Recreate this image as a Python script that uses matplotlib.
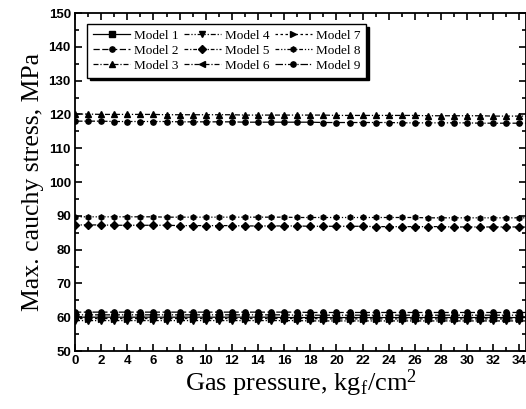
import numpy as np
import matplotlib
matplotlib.use('Agg')
import matplotlib.pyplot as plt
from matplotlib.ticker import MultipleLocator

plt.rcParams['mathtext.fontset'] = 'custom'
plt.rcParams['mathtext.rm'] = 'Liberation Serif'
plt.rcParams['mathtext.it'] = 'Liberation Serif:italic'

pressure = list(range(36))

model1 = [60.0, 60.0, 60.0, 60.0, 60.0, 60.0, 60.0, 60.0, 60.0, 60.0, 60.0, 60.0,
          60.0, 60.0, 60.0, 60.0, 59.9, 59.9, 59.9, 59.9, 59.9, 59.9, 59.9, 59.9,
          59.9, 59.9, 59.9, 59.9, 59.9, 59.9, 59.9, 59.9, 59.9, 59.9, 59.9, 59.9]
model2 = [61.5, 61.5, 61.5, 61.5, 61.5, 61.5, 61.5, 61.5, 61.5, 61.5, 61.5, 61.5,
          61.5, 61.5, 61.5, 61.5, 61.5, 61.5, 61.4, 61.4, 61.4, 61.4, 61.4, 61.4,
          61.4, 61.4, 61.4, 61.4, 61.4, 61.4, 61.4, 61.4, 61.4, 61.4, 61.4, 61.4]
model3 = [120.1, 120.1, 120.0, 120.0, 120.0, 120.0, 120.0, 119.9, 119.9, 119.9,
          119.9, 119.9, 119.9, 119.8, 119.8, 119.8, 119.8, 119.8, 119.8, 119.8,
          119.7, 119.7, 119.7, 119.7, 119.7, 119.7, 119.7, 119.6, 119.6, 119.6,
          119.6, 119.6, 119.5, 119.5, 119.5, 119.5]
model4 = [59.0, 59.0, 59.0, 59.0, 59.0, 59.0, 59.0, 59.0, 59.0, 59.0, 59.0, 59.0,
          59.0, 59.0, 59.0, 59.0, 59.0, 59.0, 58.9, 58.9, 58.9, 58.9, 58.9, 58.9,
          58.9, 58.9, 58.9, 58.9, 58.9, 58.9, 58.9, 58.9, 58.9, 58.9, 58.9, 58.9]
model5 = [87.3, 87.3, 87.3, 87.2, 87.2, 87.2, 87.2, 87.2, 87.1, 87.1, 87.1, 87.1,
          87.1, 87.0, 87.0, 87.0, 87.0, 87.0, 86.9, 86.9, 86.9, 86.9, 86.9, 86.8,
          86.8, 86.8, 86.8, 86.8, 86.8, 86.7, 86.7, 86.7, 86.7, 86.7, 86.7, 86.6]
model6 = [60.7, 60.7, 60.7, 60.7, 60.7, 60.7, 60.7, 60.7, 60.7, 60.7, 60.7, 60.7,
          60.7, 60.7, 60.7, 60.7, 60.7, 60.6, 60.6, 60.6, 60.6, 60.6, 60.6, 60.6,
          60.6, 60.6, 60.6, 60.6, 60.6, 60.6, 60.6, 60.6, 60.6, 60.6, 60.6, 60.6]
model7 = [59.6, 59.6, 59.6, 59.6, 59.6, 59.6, 59.6, 59.6, 59.6, 59.6, 59.6, 59.6,
          59.6, 59.6, 59.6, 59.6, 59.6, 59.6, 59.6, 59.5, 59.5, 59.5, 59.5, 59.5,
          59.5, 59.5, 59.5, 59.5, 59.5, 59.5, 59.5, 59.5, 59.5, 59.5, 59.5, 59.5]
model8 = [89.7, 89.7, 89.7, 89.7, 89.7, 89.7, 89.7, 89.6, 89.6, 89.6, 89.6, 89.6,
          89.6, 89.6, 89.6, 89.6, 89.6, 89.5, 89.5, 89.5, 89.5, 89.5, 89.5, 89.5,
          89.5, 89.5, 89.5, 89.4, 89.4, 89.4, 89.4, 89.4, 89.4, 89.4, 89.4, 89.4]
model9 = [118.0, 118.0, 118.0, 117.9, 117.9, 117.9, 117.9, 117.9, 117.8, 117.8,
          117.8, 117.8, 117.8, 117.7, 117.7, 117.7, 117.7, 117.7, 117.7, 117.6,
          117.6, 117.6, 117.6, 117.6, 117.6, 117.5, 117.5, 117.5, 117.5, 117.5,
          117.5, 117.4, 117.4, 117.4, 117.4, 117.4]

labels = ['Model 1', 'Model 2', 'Model 3', 'Model 4', 'Model 5',
          'Model 6', 'Model 7', 'Model 8', 'Model 9']
series = [model1, model2, model3, model4, model5, model6, model7, model8, model9]
markers = ['s', 'o', '^', 'v', 'D', '<', '>', 'h', 'o']
styles = ['-', (0, (5, 2)), (0, (4, 1.5, 1, 1.5)), (0, (4, 1.5, 1, 1.5, 1, 1.5)),
          (0, (3, 1.5, 1, 1.5)), (0, (4, 1.5, 1, 1.5)), (0, (2, 2)),
          (0, (3, 1.5, 1, 1.5, 1, 1.5)), (0, (6, 1.5, 1, 1.5))]

fig = plt.figure(figsize=(5.26, 4.09), dpi=100)
ax = fig.add_axes([0.1426, 0.1418, 0.8574, 0.8264])

for vals, lab, mk, ls in zip(series, labels, markers, styles):
    ax.plot(pressure, vals, color='k', linestyle=ls, linewidth=0.9,
            marker=mk, markersize=3.8, label=lab)

ax.set_xlim(0, 34.5)
ax.set_ylim(50, 150)
ax.xaxis.set_major_locator(MultipleLocator(2))
ax.xaxis.set_minor_locator(MultipleLocator(1))
ax.yaxis.set_major_locator(MultipleLocator(10))
ax.yaxis.set_minor_locator(MultipleLocator(5))
ax.tick_params(which='both', direction='in', top=True, right=True, width=1.2)
ax.tick_params(which='major', length=5, pad=3)
ax.tick_params(which='minor', length=3)
for lab in ax.get_xticklabels() + ax.get_yticklabels():
    lab.set_fontfamily('Liberation Sans')
    lab.set_fontweight('bold')
    lab.set_fontsize(9.5)
for sp in ax.spines.values():
    sp.set_linewidth(1.3)

ax.set_xlabel(r'Gas pressure, kg$_\mathrm{f}$/cm$^2$', fontfamily='Liberation Serif',
              fontsize=19, labelpad=0)
ax.set_ylabel('Max. cauchy stress, MPa', fontfamily='Liberation Serif',
              fontsize=18.5, labelpad=3)

leg = ax.legend(ncol=3, loc='upper left', bbox_to_anchor=(0.027, 0.968),
                borderaxespad=0, fancybox=False, edgecolor='k',
                shadow={'color': 'k', 'alpha': 1},
                prop={'family': 'Liberation Serif', 'size': 9.5},
                handlelength=2.8, handletextpad=0.3, columnspacing=0.4,
                labelspacing=0.2, borderpad=0.45, framealpha=1)
leg.get_frame().set_linewidth(1.0)

fig.savefig('out.png', dpi=100)
